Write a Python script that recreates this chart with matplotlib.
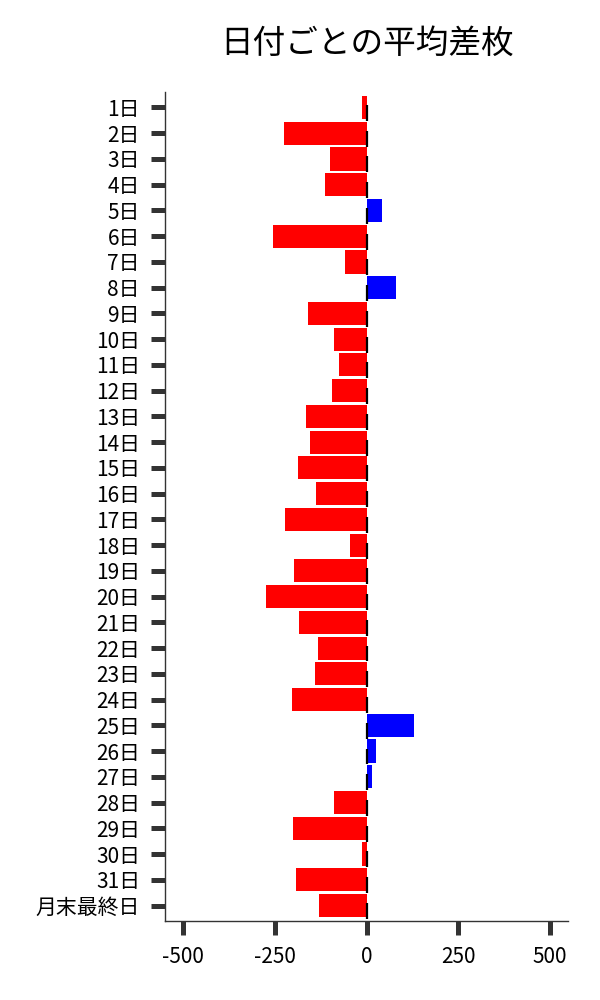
import numpy as np
import matplotlib
matplotlib.use("Agg")
import matplotlib.pyplot as plt

plt.rcParams['font.family'] = ['Noto Sans CJK JP', 'DejaVu Sans']

days = [f"{d}日" for d in range(1, 32)] + ["月末最終日"]
avg_diff = [-12, -225, -100, -114, 41, -256, -60, 79, -160, -89,
            -76, -95, -165, -155, -187, -138, -222, -46, -198, -274,
            -184, -133, -141, -203, 129, 26, 15, -89, -200, -12,
            -192, -130]
xticks = [-500, -250, 0, 250, 500]

vals = np.array(avg_diff)
ypos = np.arange(len(days))
colors = ["red" if v < 0 else "blue" for v in vals]

fig = plt.figure(figsize=(6, 10), dpi=100)
ax = fig.add_axes([0.275, 0.079, 0.672, 0.829])

ax.barh(ypos, vals, height=0.9, color=colors)
# small black markers at zero, slightly offset below each bar centre
ax.vlines(np.zeros(len(ypos)), ypos - 0.1, ypos + 0.52, color="black", linewidth=1.6)

ax.set_yticks(ypos)
ax.set_yticklabels(days, fontsize=15)
ax.set_xticks(xticks)
ax.set_xticklabels([str(t) for t in xticks], fontsize=15)
ax.set_xlim(-550, 550)
ax.set_ylim(len(days) - 1 + 0.6, -0.6)

ax.tick_params(axis="both", length=10, width=3.6, color="#333333", pad=8)
for side in ["top", "right"]:
    ax.spines[side].set_visible(False)
for side in ["left", "bottom"]:
    ax.spines[side].set_color("#333333")
    ax.spines[side].set_linewidth(1.0)

ax.set_title("日付ごとの平均差枚", fontsize=23.5, pad=28)

fig.savefig("out.png", dpi=100)
